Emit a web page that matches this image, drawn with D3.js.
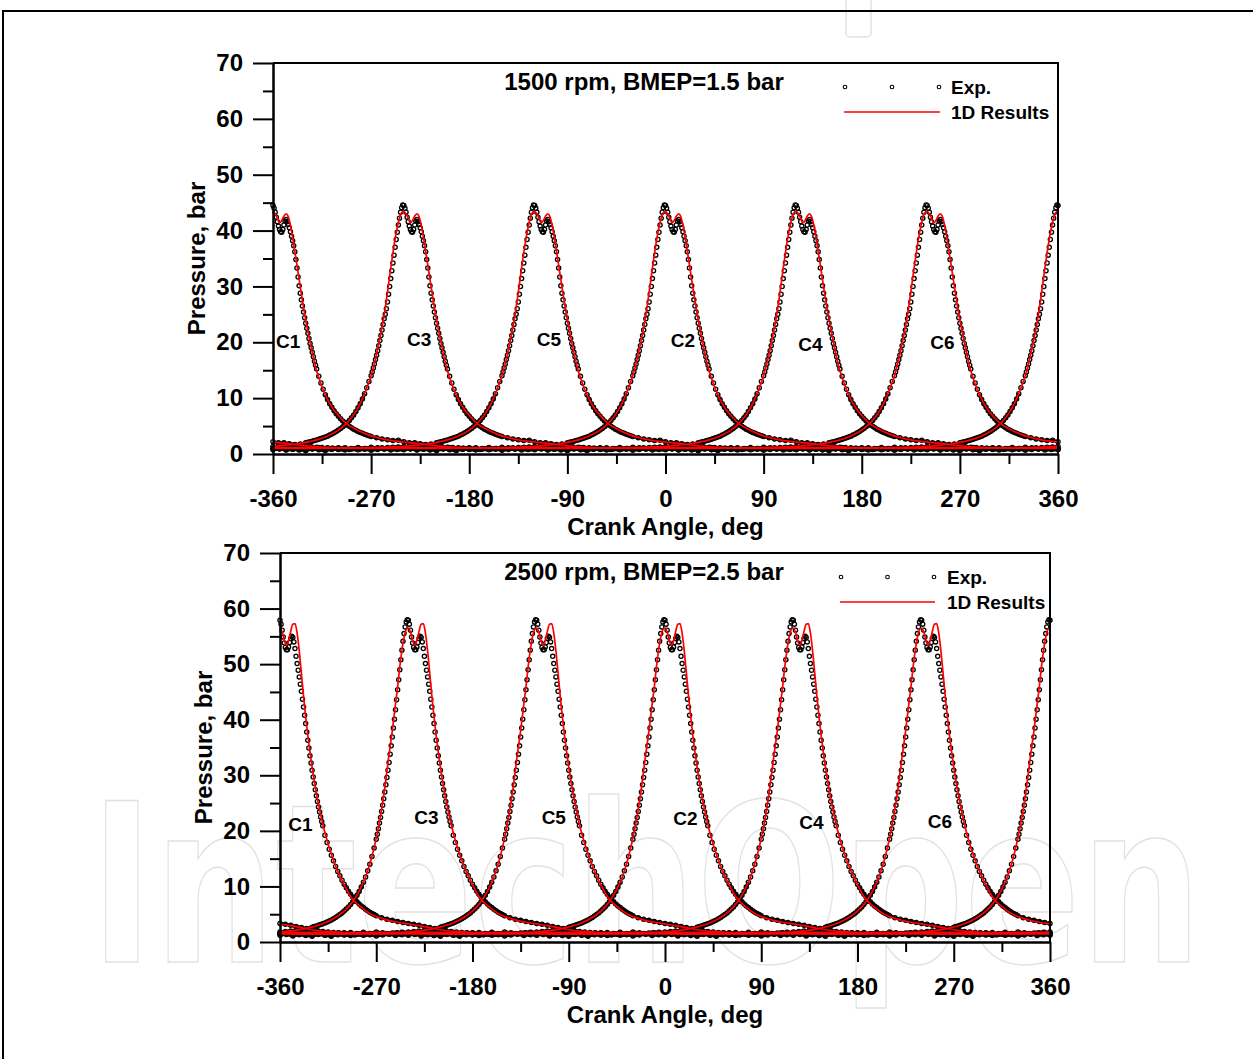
<!DOCTYPE html>
<html>
<head>
<meta charset="utf-8">
<script src="https://cdn.jsdelivr.net/npm/d3@7"></script>
<style>
  body { margin: 0; background: #fff; }
  svg text { font-family: "Liberation Sans", Arial, sans-serif; font-weight: bold; }
</style>
</head>
<body>
<svg id="chart" width="1253" height="1059"></svg>
<script>
// cylinders in the order they reach firing TDC along the crank angle axis
const cylinders = ["C1", "C3", "C5", "C2", "C4", "C6"];
const tdcAngles = [-360, -240, -120, 0, 120, 240];

// crank angle of each measured sample, relative to the cylinder's firing TDC (deg)
const expAngles = [
  -360, -354, -348, -342, -336, -330, -324, -318, -312, -306, -300, -294, -288, -282, -276,
  -270, -264, -258, -252, -246, -240, -234, -228, -222, -216, -210, -204, -198, -192, -186,
  -180, -175, -170, -165, -160, -155, -150, -145, -140, -135, -130, -125, -120, -115, -110, -105, -100, -95,
  -90, -88, -86, -84, -82, -80, -78, -76, -74, -72, -70, -68, -66, -64, -62,
  -60, -58, -56, -54, -52, -50, -48, -46, -44, -42, -40, -38, -36, -34, -32,
  -30, -29, -28, -27, -26, -25, -24, -23, -22, -21, -20, -19, -18, -17, -16,
  -15, -14, -13, -12, -11, -10, -9, -8, -7, -6, -5, -4, -3, -2, -1,
  0, 1, 2, 3, 4, 5, 6, 7, 8, 9, 10, 11, 12, 13, 14, 15, 16, 17, 18, 19,
  20, 21, 22, 23, 24, 25, 26, 27, 28, 29, 30, 31, 32, 33, 34, 35, 36, 37, 38, 39, 40,
  42, 44, 46, 48, 50, 52, 54, 56, 58, 60, 62, 64, 66, 68, 70, 72, 74, 76, 78, 80, 82, 84, 86, 88, 90,
  95, 100, 105, 110, 115, 120, 125, 130, 135, 140, 145, 150, 155, 160, 165, 170, 175,
  180, 186, 192, 198, 204, 210, 216, 222, 228, 234, 240, 246, 252, 258, 264,
  270, 276, 282, 288, 294, 300, 306, 312, 318, 324, 330, 336, 342, 348, 354
];

// measured pressure, bar
const exp1500 = [
  1.0, 0.9, 0.75, 0.85, 0.7, 0.8, 0.95, 0.75, 0.6, 0.85, 0.8, 0.7, 0.9, 0.75, 0.85,
  0.65, 0.8, 0.9, 0.7, 0.8, 0.75, 0.95, 0.7, 0.85, 0.8, 0.6, 0.9, 0.8, 0.75, 0.85,
  0.85, 0.9, 0.8, 0.95, 0.9, 1.0, 1.05, 1.0, 1.1, 1.15, 1.2, 1.25, 1.35, 1.4, 1.5, 1.55, 1.65, 1.8,
  2.0, 2.1, 2.2, 2.3, 2.4, 2.5, 2.62, 2.76, 2.9, 3.05, 3.2, 3.38, 3.58, 3.8, 4.03,
  4.28, 4.56, 4.86, 5.2, 5.58, 6.0, 6.48, 7.0, 7.6, 8.28, 9.0, 9.85, 10.8, 11.85, 13.0,
  14.0, 14.7, 15.4, 16.1, 16.9, 17.7, 18.5, 19.4, 20.3, 21.2, 22.2, 23.2, 24.2, 25.0, 26.0,
  27.2, 28.6, 30.0, 31.4, 32.8, 34.2, 35.6, 37.0, 38.4, 39.7, 41.0, 42.2, 43.3, 44.1, 44.6,
  44.5, 44.0, 43.3, 42.4, 41.6, 40.8, 40.2, 39.8, 39.7, 40.2, 41.0, 41.7, 42.0, 41.6, 41.1, 40.5, 39.8, 39.0, 38.2, 37.3,
  36.2, 34.8, 33.3, 31.7, 30.1, 28.8, 27.6, 26.5, 25.4, 24.4, 23.4, 22.5, 21.6, 20.7, 19.8, 19.0, 18.2, 17.4, 16.6, 15.9, 15.2,
  13.9, 12.7, 11.6, 10.6, 9.75, 9.0, 8.35, 7.75, 7.2, 6.75, 6.3, 5.9, 5.55, 5.25, 4.95, 4.7, 4.45, 4.25, 4.05, 3.85, 3.7, 3.55, 3.4, 3.27, 3.15,
  2.9, 2.7, 2.55, 2.4, 2.45, 2.2, 2.0, 2.0, 1.85, 1.7, 1.55, 1.4, 1.3, 1.2, 1.15, 1.1, 1.05,
  1.05, 1.1, 0.95, 1.15, 1.0, 1.2, 1.1, 0.95, 1.05, 1.15, 1.0, 1.1, 1.2, 0.9, 1.05,
  1.1, 1.0, 1.15, 0.95, 1.05, 1.1, 0.9, 1.0, 1.05, 0.95, 0.85, 1.0, 0.9, 0.95, 1.0
];
const exp2500 = [
  1.5, 1.35, 1.2, 1.4, 1.15, 1.3, 1.45, 1.2, 1.05, 1.35, 1.25, 1.15, 1.4, 1.2, 1.3,
  1.1, 1.25, 1.4, 1.15, 1.3, 1.2, 1.45, 1.1, 1.3, 1.25, 1.05, 1.35, 1.25, 1.2, 1.3,
  1.3, 1.35, 1.25, 1.4, 1.35, 1.45, 1.5, 1.45, 1.55, 1.6, 1.65, 1.7, 1.8, 1.9, 2.0, 2.1, 2.25, 2.45,
  2.65, 2.78, 2.9, 3.03, 3.15, 3.28, 3.43, 3.6, 3.78, 3.97, 4.17, 4.4, 4.66, 4.94, 5.24,
  5.56, 5.93, 6.32, 6.76, 7.26, 7.8, 8.42, 9.1, 9.88, 10.76, 11.7, 12.8, 14.0, 15.4, 16.9,
  18.5, 19.4, 20.4, 21.4, 22.4, 23.5, 24.6, 25.8, 27.0, 28.3, 29.6, 30.9, 32.3, 33.8, 35.3,
  36.9, 38.5, 40.1, 41.8, 43.6, 45.4, 47.2, 49.0, 50.8, 52.5, 54.1, 55.5, 56.7, 57.6, 58.0,
  57.9, 57.2, 56.1, 54.9, 53.8, 53.0, 52.6, 52.6, 53.1, 53.9, 54.6, 55.0, 54.8, 54.0, 52.8, 51.4, 50.1, 48.9, 47.7, 46.4,
  45.1, 43.7, 42.3, 40.8, 39.3, 37.8, 36.3, 34.9, 33.5, 32.2, 30.9, 29.7, 28.5, 27.4, 26.3, 25.3, 24.3, 23.4, 22.5, 21.7, 20.9,
  19.2, 17.9, 16.7, 15.6, 14.6, 13.6, 12.7, 11.9, 11.1, 10.4, 9.75, 9.15, 8.6, 8.1, 7.65, 7.25, 6.85, 6.5, 6.2, 5.9, 5.62, 5.37, 5.14, 4.93, 4.73,
  4.35, 4.1, 3.9, 3.7, 3.5, 3.35, 3.2, 3.0, 2.8, 2.6, 2.4, 2.2, 2.05, 1.9, 1.8, 1.7, 1.65,
  1.6, 1.7, 1.5, 1.75, 1.55, 1.8, 1.65, 1.5, 1.6, 1.75, 1.55, 1.65, 1.8, 1.45, 1.6,
  1.7, 1.55, 1.7, 1.5, 1.6, 1.65, 1.45, 1.55, 1.6, 1.5, 1.4, 1.55, 1.45, 1.5, 1.55
];

// 1D model trace, relative to firing TDC (deg) and pressure (bar)
const modelAngles = [
  -360, -300, -240, -200, -180, -160, -140, -130, -120, -110, -100, -90, -80, -70, -60,
  -55, -50, -45, -40, -35, -30, -26, -22, -18, -15, -12, -10, -8, -6, -4, -2,
  0, 2, 4, 6, 8, 10, 12, 14, 16, 18, 20, 22, 24, 26, 28, 30, 33, 36, 40,
  45, 50, 55, 60, 67, 75, 85, 95, 110, 120, 130, 140, 150, 165, 180, 240, 300, 360
];
const model1500 = [
  1.1, 1.05, 1.0, 1.02, 1.05, 1.08, 1.17, 1.26, 1.37, 1.53, 1.75, 2.07, 2.52, 3.21, 4.28,
  5.04, 6.03, 7.32, 9.03, 11.33, 14.0, 17.0, 20.7, 24.9, 29.0, 33.3, 36.0, 38.5, 40.6, 42.2, 43.2,
  43.4, 43.0, 42.2, 41.4, 41.8, 42.6, 43.0, 42.5, 40.9, 38.8, 36.3, 33.8, 31.2, 28.7, 26.3, 24.0, 21.0, 18.2, 14.9,
  12.0, 9.8, 8.1, 6.9, 5.5, 4.5, 3.6, 2.95, 2.35, 2.15, 1.95, 1.7, 1.45, 1.22, 1.12, 1.15, 1.1, 1.1
];
const model2500 = [
  1.6, 1.5, 1.45, 1.4, 1.42, 1.48, 1.55, 1.64, 1.78, 1.99, 2.28, 2.69, 3.28, 4.17, 5.56,
  6.55, 7.84, 9.52, 11.7, 14.7, 18.7, 22.7, 27.8, 33.8, 38.0, 42.8, 45.9, 49.5, 52.5, 54.8, 56.2,
  56.5, 55.8, 54.3, 53.4, 54.2, 55.9, 57.2, 57.3, 55.6, 52.4, 48.4, 44.3, 40.6, 37.2, 34.2, 31.5, 27.9, 24.8, 21.2,
  17.6, 14.7, 12.3, 10.3, 7.9, 6.4, 5.0, 4.25, 3.55, 3.25, 2.95, 2.6, 2.2, 1.85, 1.7, 1.75, 1.65, 1.6
];

// where the cylinder names sit (deg, bar)
const labelAngle1500 = [-346, -226, -107, 16, 133, 254];
const labelBar1500 = [20.2, 20.6, 20.6, 20.4, 19.7, 19.9];
const labelAngle2500 = [-341, -223, -104, 19, 137, 257];
const labelBar2500 = [21.1, 22.5, 22.5, 22.3, 21.6, 21.8];

const xTicks = [-360, -270, -180, -90, 0, 90, 180, 270, 360];
const xMinor = [-315, -225, -135, -45, 45, 135, 225, 315];
const yTicks = [0, 10, 20, 30, 40, 50, 60, 70];
const yMinor = [5, 15, 25, 35, 45, 55, 65];

const panels = [
  { title: "1500 rpm, BMEP=1.5 bar", exp: exp1500, model: model1500,
    labA: labelAngle1500, labP: labelBar1500,
    left: 273, right: 1058, top: 63, bottom: 454, legX: 845, legStep: 47 },
  { title: "2500 rpm, BMEP=2.5 bar", exp: exp2500, model: model2500,
    labA: labelAngle2500, labP: labelBar2500,
    left: 280, right: 1050, top: 553, bottom: 942, legX: 841, legStep: 46.5 }
];

const svg = d3.select("#chart");

// faint publisher watermark behind everything
svg.append("text")
  .attr("x", 90).attr("y", 962)
  .attr("textLength", 1112).attr("lengthAdjust", "spacingAndGlyphs")
  .style("font-family", "'DejaVu Sans', sans-serif")
  .style("font-weight", "bold")
  .style("font-size", "222px")
  .attr("fill", "none").attr("stroke", "#e2e2e2").attr("stroke-width", 1.5)
  .text("IntechOpen");
svg.append("rect")
  .attr("x", 846).attr("y", -6).attr("width", 25).attr("height", 43).attr("rx", 4)
  .attr("fill", "none").attr("stroke", "#e2e2e2").attr("stroke-width", 1.5);

// outer frame
svg.append("path").attr("d", "M3,1059V11H1253")
  .attr("fill", "none").attr("stroke", "#000").attr("stroke-width", 2);

panels.forEach(drawPanel);

function drawPanel(p, i) {
  const x = d3.scaleLinear().domain([-360, 360]).range([p.left, p.right]);
  const y = d3.scaleLinear().domain([0, 70]).range([p.bottom, p.top]);
  const g = svg.append("g");

  g.append("clipPath").attr("id", "clip" + i).append("rect")
    .attr("x", p.left).attr("y", p.top - 5)
    .attr("width", p.right - p.left).attr("height", p.bottom - p.top + 9);

  // measured points; each cylinder is repeated one cycle either side so the
  // traces wrap across the -360 / 360 edges
  const pts = [];
  const traces = [];
  tdcAngles.forEach(tdc => {
    [-720, 0, 720].forEach(shift => {
      traces.push(expAngles.map((a, k) => [tdc + shift + a, p.exp[k]]));
      expAngles.forEach((a, k) => {
        const ang = tdc + shift + a;
        if (ang >= -360 && ang <= 360) pts.push([ang, p.exp[k]]);
      });
    });
  });

  // where the samples crowd together at low pressure they read as a solid band
  const band = d3.line().x(d => x(d[0])).y(d => y(d[1])).defined(d => d[1] < 11);
  const bands = g.append("g").attr("clip-path", "url(#clip" + i + ")");
  traces.forEach(t => {
    bands.append("path").datum(t).attr("d", band)
      .attr("fill", "none").attr("stroke", "#000").attr("stroke-width", 3.2);
  });

  g.append("g").selectAll("circle").data(pts).join("circle")
    .attr("cx", d => x(d[0])).attr("cy", d => y(d[1])).attr("r", 2.1)
    .attr("fill", "none").attr("stroke", "#000").attr("stroke-width", 1.3);

  // 1D results
  const line = d3.line().x(d => x(d[0])).y(d => y(d[1])).curve(d3.curveMonotoneX);
  const lines = g.append("g").attr("clip-path", "url(#clip" + i + ")");
  tdcAngles.forEach(tdc => {
    [-720, 0, 720].forEach(shift => {
      lines.append("path")
        .datum(modelAngles.map((a, k) => [tdc + shift + a, p.model[k]]))
        .attr("d", line)
        .attr("fill", "none").attr("stroke", "#ff0000").attr("stroke-width", 1.7);
    });
  });

  // axes
  const styleAxis = sel => {
    sel.attr("font-size", 24);
    sel.selectAll("path, line").attr("stroke", "#000").attr("stroke-width", 2);
    sel.selectAll("text").attr("fill", "#000");
  };
  g.append("g").attr("transform", `translate(${p.left},0)`)
    .call(d3.axisLeft(y).tickValues(yTicks).tickSize(20).tickSizeOuter(0).tickPadding(10).tickFormat(d => String(d)))
    .call(styleAxis);
  g.append("g").attr("transform", `translate(${p.left},0)`)
    .call(d3.axisLeft(y).tickValues(yMinor).tickSize(10).tickSizeOuter(0).tickFormat(""))
    .call(styleAxis);
  g.append("g").attr("transform", `translate(0,${p.bottom})`)
    .call(d3.axisBottom(x).tickValues(xTicks).tickSize(20).tickSizeOuter(0).tickPadding(16).tickFormat(d => String(d)))
    .call(styleAxis);
  g.append("g").attr("transform", `translate(0,${p.bottom})`)
    .call(d3.axisBottom(x).tickValues(xMinor).tickSize(10).tickSizeOuter(0).tickFormat(""))
    .call(styleAxis);

  // top and right border
  g.append("path")
    .attr("d", `M${p.left},${p.top}H${p.right}V${p.bottom}`)
    .attr("fill", "none").attr("stroke", "#000").attr("stroke-width", 2);

  // cylinder names
  g.append("g").selectAll("text").data(cylinders).join("text")
    .attr("x", (d, k) => x(p.labA[k])).attr("y", (d, k) => y(p.labP[k]))
    .attr("dy", "0.35em").attr("text-anchor", "middle")
    .style("font-size", "19px").text(d => d);

  // title
  g.append("text").attr("x", 644).attr("y", p.top + 27)
    .attr("text-anchor", "middle").style("font-size", "24px").text(p.title);

  // legend
  const ly = p.top + 24;
  g.append("g").selectAll("circle").data([0, 1, 2]).join("circle")
    .attr("cx", d => p.legX + d * p.legStep).attr("cy", ly).attr("r", 1.8)
    .attr("fill", "none").attr("stroke", "#000").attr("stroke-width", 1.1);
  g.append("text").attr("x", p.legX + 106).attr("y", ly + 7)
    .style("font-size", "19px").text("Exp.");
  g.append("line")
    .attr("x1", p.legX - 1).attr("x2", p.legX + 2 * p.legStep + 1)
    .attr("y1", ly + 25).attr("y2", ly + 25)
    .attr("stroke", "#ff0000").attr("stroke-width", 1.6);
  g.append("text").attr("x", p.legX + 106).attr("y", ly + 32)
    .style("font-size", "19px").text("1D Results");

  // axis titles
  g.append("text").attr("x", (p.left + p.right) / 2).attr("y", p.bottom + 81)
    .attr("text-anchor", "middle").style("font-size", "24px").text("Crank Angle, deg");
  g.append("text")
    .attr("transform", `translate(${p.left - 68},${(p.top + p.bottom) / 2}) rotate(-90)`)
    .attr("text-anchor", "middle").style("font-size", "24px").text("Pressure, bar");
}
</script>
</body>
</html>
